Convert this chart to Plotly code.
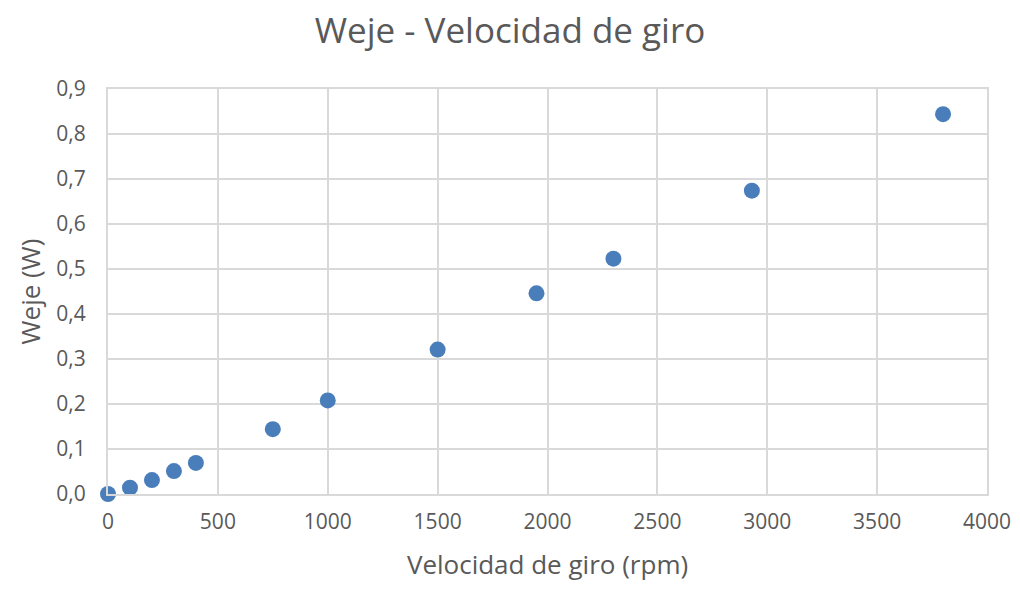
import plotly.graph_objects as go

velocidad = [0, 100, 200, 300, 400, 750, 1000, 1500, 1950, 2300, 2930, 3800]
weje = [0.0, 0.014, 0.031, 0.051, 0.069, 0.144, 0.208, 0.321, 0.446, 0.523, 0.674, 0.844]

x_ticks = [0, 500, 1000, 1500, 2000, 2500, 3000, 3500, 4000]
y_ticks = [0, 0.1, 0.2, 0.3, 0.4, 0.5, 0.6, 0.7, 0.8, 0.9]
y_labels = ["0,0", "0,1", "0,2", "0,3", "0,4", "0,5", "0,6", "0,7", "0,8", "0,9"]

fig = go.Figure(go.Scatter(x=velocidad, y=weje, mode='markers', cliponaxis=False,
                           marker=dict(size=16, color='#4a7ebb')))

# the page body has an 8px margin, so keep the figure inside the window
fig.update_layout(
    width=1004, height=574,
    font=dict(family='Open Sans', color='#595959'),
    title=dict(text='Weje - Velocidad de giro', x=0.5, xanchor='center',
               y=1 - 23 / 574, yanchor='middle', font=dict(size=35)),
    margin=dict(l=100, r=25, t=81, b=88),
    plot_bgcolor='white', paper_bgcolor='white',
    showlegend=False,
)
fig.update_xaxes(range=[0, 4000], tickvals=x_ticks, showgrid=True, automargin=False,
                 gridcolor='#d9d9d9', gridwidth=2, zeroline=False,
                 showline=True, linecolor='#d9d9d9', linewidth=2, mirror=True,
                 tickfont=dict(size=21), ticks='outside', ticklen=8, tickcolor='rgba(0,0,0,0)',
                 title=dict(text='Velocidad de giro (rpm)', font=dict(size=26), standoff=30))
fig.update_yaxes(range=[0, 0.9], tickvals=y_ticks, ticktext=y_labels, showgrid=True, automargin=False,
                 gridcolor='#d9d9d9', gridwidth=2, zeroline=False,
                 showline=True, linecolor='#d9d9d9', linewidth=2, mirror=True,
                 tickfont=dict(size=21), ticks='outside', ticklen=16, tickcolor='rgba(0,0,0,0)',
                 title=dict(text='Weje (W)', font=dict(size=26), standoff=8))

fig.write_html("out.html")
